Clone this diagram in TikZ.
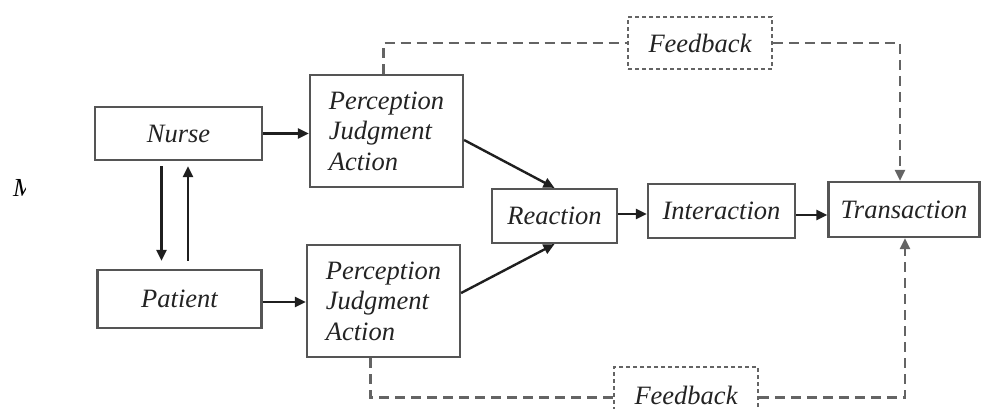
\documentclass[tikz,border=0pt]{standalone}
\usepackage{fontspec}
\setmainfont{Liberation Serif}
\usepackage{xcolor}
\usetikzlibrary{arrows.meta}
\definecolor{boxline}{RGB}{85,85,85}
\definecolor{dashline}{RGB}{100,100,100}
\definecolor{labeltext}{RGB}{35,35,35}

\begin{document}
\begin{tikzpicture}[x=1pt,y=-1pt,
    box/.style={draw=boxline,line width=2.2pt,inner sep=0pt,text=labeltext,
        font=\fontsize{26.5}{30.5}\selectfont\itshape},
    fbbox/.style={draw=dashline,line width=1.6pt,dash pattern=on 4pt off 3pt,
        inner sep=0pt,text=labeltext,font=\fontsize{26.5}{30.5}\selectfont\itshape},
    arr/.style={-{Triangle[length=11pt,width=10pt]},line width=2.4pt,black!88},
    fbline/.style={dashline,line width=2.2pt,dash pattern=on 10pt off 6pt},
    fbarr/.style={fbline,-{Triangle[length=11pt,width=10pt]}}]
                    \useasboundingbox (0,0) rectangle (981,408);

                    % Stray mark at left edge
                    \begin{scope}
                    \clip (8,170) rectangle (25,202);
                    \node[text=black,font=\fontsize{26}{30}\selectfont\itshape] (stray) at (24,188) {M};
                    \end{scope}

                    % Boxes
                    \node[box,minimum width=167,minimum height=53] (nurse) at (178.5,133.5) {Nurse};
                    \node[box,minimum width=164,minimum height=58] (patient) at (179.5,299) {Patient};
                    \node[box,minimum width=153,minimum height=112,align=left] (pjaTop) at (386.5,131)
                        {Perception\\Judgment\\Action};
                    \node[box,minimum width=153,minimum height=112,align=left] (pjaBot) at (383.5,301)
                        {Perception\\Judgment\\Action};
                    \node[box,minimum width=125,minimum height=54] (reaction) at (554.5,216) {Reaction};
                    \node[box,minimum width=147,minimum height=54] (interaction) at (721.5,211) {Interaction};
                    \node[box,minimum width=151,minimum height=55] (transaction) at (904,209.5) {Transaction};
                    \node[fbbox,minimum width=144,minimum height=52] (fbTop) at (700,43) {Feedback};
                    \node[fbbox,minimum width=144,minimum height=57] (fbBot) at (686,395.5) {Feedback};

                    % Arrows
                    \draw[arr] ([xshift=-17pt,yshift=-5pt]nurse.south) -- ([xshift=-18pt,yshift=8pt]patient.north);
                    \draw[arr] ([xshift=8.5pt,yshift=8pt]patient.north) -- ([xshift=9.5pt,yshift=-5pt]nurse.south);
                    \draw[arr] (nurse.east) -- (nurse.east -| pjaTop.west);
                    \draw[arr] ([yshift=-3pt]patient.east) -- ([yshift=-3pt]patient.east -| pjaBot.west);
                    \draw[arr] ([yshift=-9pt]pjaTop.east) -- (reaction.north);
                    \draw[arr] ([yshift=8pt]pjaBot.east) -- (reaction.south);
                    \draw[arr] ([yshift=2pt]reaction.east) -- ([yshift=2pt]reaction.east -| interaction.west);
                    \draw[arr] ([yshift=-4pt]interaction.east) -- ([yshift=-4pt]interaction.east -| transaction.west);

                    % Feedback loops
                    \draw[fbline] ([xshift=-3pt]pjaTop.north) |- (fbTop.west);
                    \draw[fbarr] (fbTop.east) -| ([xshift=-4pt]transaction.north);
                    \draw[fbline] ([xshift=-13pt]pjaBot.south) |- ([yshift=-2pt]fbBot.west);
                    \draw[fbarr] ([yshift=-2pt]fbBot.east) -| ([xshift=1pt]transaction.south);
                \end{tikzpicture}
\end{document}
